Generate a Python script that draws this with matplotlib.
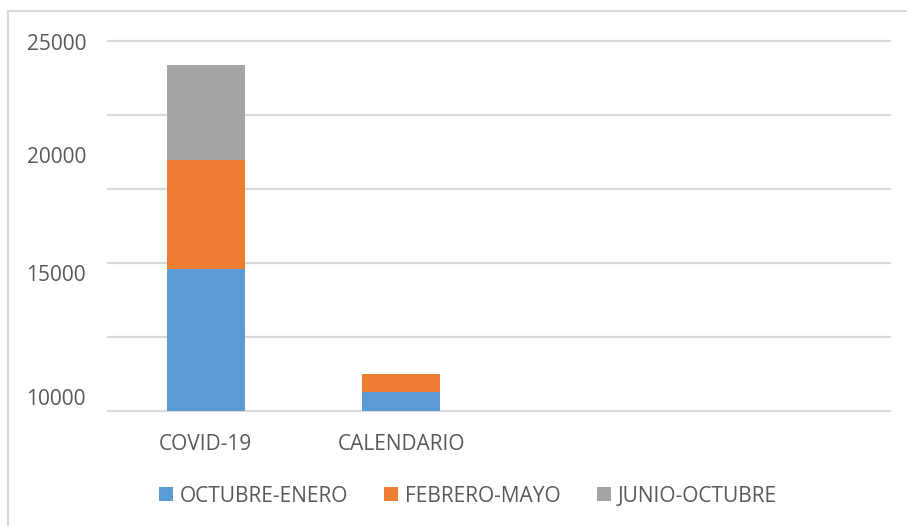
import matplotlib
matplotlib.use("Agg")
import matplotlib.pyplot as plt
import matplotlib.transforms as mtransforms
from matplotlib.patches import Rectangle, Patch
import numpy as np

# Data
categories = ["COVID-19", "CALENDARIO", "", ""]
series_names = ["OCTUBRE-ENERO", "FEBRERO-MAYO", "JUNIO-OCTUBRE"]
octubre_enero = [15750, 10770, 0, 0]
febrero_mayo = [4430, 710, 0, 0]
junio_octubre = [3840, 0, 0, 0]
y_labels = [10000, 15000, 20000, 25000]

colors = ["#5b9bd5", "#ed7d31", "#a5a5a5"]
text_color = "#595959"
grid_color = "#d9d9d9"
fs = 15

plt.rcParams["font.family"] = ["Open Sans", "DejaVu Sans"]

fig = plt.figure(figsize=(9.07, 5.26), dpi=100)
fig.patch.set_facecolor("white")

# Outer chart border
fig.patches.append(Rectangle((8 / 907, -0.02), 1.02, (526 - 11) / 526 + 0.02,
                             transform=fig.transFigure, fill=False,
                             edgecolor=grid_color, linewidth=1.6))

ax = fig.add_axes([108 / 907, 115.3 / 526, (890 - 108) / 907, 370 / 526])

x = np.arange(len(categories))
width = 0.4
bottom = np.zeros(len(categories))
for name, vals, c in zip(series_names, [octubre_enero, febrero_mayo, junio_octubre], colors):
    vals = np.array(vals, dtype=float)
    ax.bar(x, vals, width, bottom=bottom, color=c, label=name, zorder=3)
    bottom += vals

ax.set_xlim(-0.5, len(categories) - 0.5)
ax.set_ylim(10000, 25000)

# Gridlines every 3000, labels every 5000
ax.yaxis.remove_overlapping_locs = False
ax.set_yticks(np.arange(10000, 25001, 3000), minor=True)
ax.set_yticks(y_labels)
ax.set_yticklabels([str(v) for v in y_labels])
ax.yaxis.grid(True, which="minor", color=grid_color, linewidth=1.6, zorder=0)
ax.yaxis.grid(False, which="major")
for tick in ax.yaxis.get_minor_ticks():
    tick.gridline.set_clip_on(False)
ax.tick_params(axis="y", which="both", length=0, labelsize=fs,
               labelcolor=text_color, pad=15.8)

ax.set_xticks(x)
ax.set_xticklabels(categories)
ax.tick_params(axis="x", length=0, labelsize=fs, labelcolor=text_color, pad=16.5)

for s in ax.spines.values():
    s.set_visible(False)

# Nudge y labels (points)
label_shift = {10000: 9.8, 15000: 10.3, 20000: 6.5, 25000: -0.9}
for tick in ax.yaxis.get_major_ticks():
    v = tick.get_loc()
    dy = label_shift.get(int(round(v)), 0)
    lab = tick.label1
    lab.set_transform(lab.get_transform() +
                      mtransforms.ScaledTranslation(0, dy / 72, fig.dpi_scale_trans))

handles = [Patch(facecolor=c, edgecolor="none") for c in colors]
leg = fig.legend(handles, series_names, loc="center", bbox_to_anchor=(0.516, 0.057),
                 ncol=3, frameon=False, fontsize=fs, handlelength=0.67,
                 handleheight=0.67, handletextpad=0.34, columnspacing=1.73)
for t in leg.get_texts():
    t.set_color(text_color)

fig.savefig("out.png", dpi=100, facecolor="white")
